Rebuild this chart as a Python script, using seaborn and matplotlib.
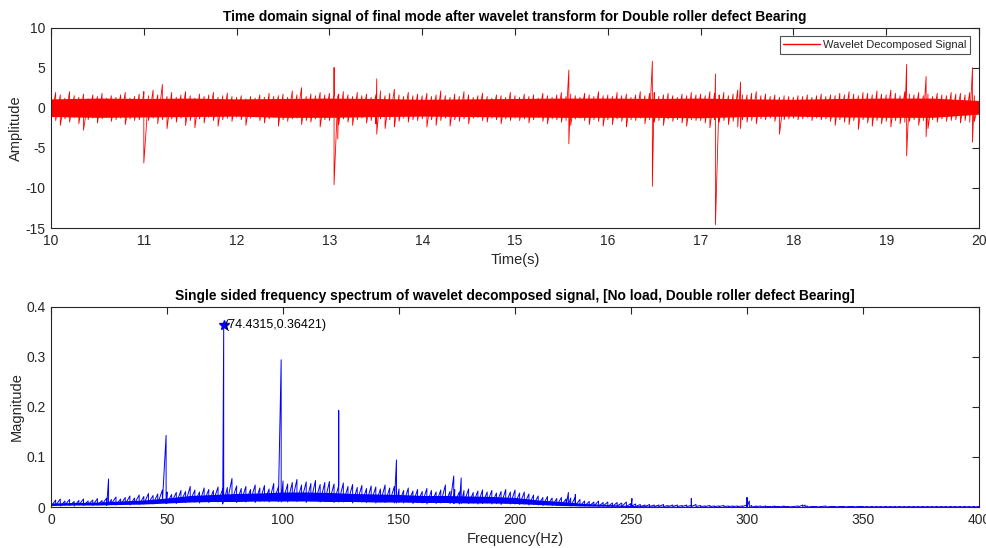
import numpy as np
import pandas as pd
import matplotlib
matplotlib.use("Agg")
import matplotlib.pyplot as plt
from matplotlib.lines import Line2D
import seaborn as sns
from matplotlib.ticker import FuncFormatter, MultipleLocator

# ---------------- time-domain signal (per-column max / min, 0.05 s columns) ----------------
time_start, time_step = 10.0, 0.05
sig_hi = [
    1.4, 1.9, 1.6, 1.2, 2.0, 1.5, 1.3, 1.7, 1.1, 1.6, 1.4, 1.8, 1.2, 1.5, 1.3, 1.6, 1.9, 1.2, 1.4, 1.7,
    1.8, 1.5, 2.2, 1.6, 2.9, 1.4, 1.9, 1.3, 1.6, 2.0, 1.5, 1.2, 1.7, 1.4, 1.6, 1.9, 1.3, 1.5, 1.8, 1.4,
    1.3, 1.5, 1.1, 1.4, 1.2, 1.6, 1.3, 1.8, 1.4, 1.5, 1.7, 1.3, 2.1, 1.6, 2.5, 1.4, 1.7, 1.5, 1.9, 1.6,
    1.8, 1.5, 1.7, 2.0, 1.6, 1.4, 1.9, 1.5, 1.7, 1.3, 1.6, 2.1, 1.5, 1.8, 2.3, 1.6, 1.4, 1.9, 1.5, 1.7,
    1.5, 1.8, 1.4, 1.6, 2.1, 1.5, 1.3, 1.7, 1.4, 2.0, 1.6, 1.3, 1.5, 1.8, 1.4, 1.2, 1.6, 1.5, 1.3, 1.9,
    1.5, 1.3, 1.7, 1.4, 1.6, 1.2, 1.8, 1.5, 1.3, 1.6, 1.9, 1.4, 1.7, 1.5, 1.3, 1.8, 1.6, 1.4, 2.0, 1.5,
    1.6, 1.4, 1.9, 1.5, 1.7, 1.3, 1.6, 2.0, 1.5, 1.8, 1.9, 1.4, 1.6, 1.8, 1.5, 1.3, 1.7, 1.5, 1.9, 1.6,
    1.7, 1.5, 2.0, 1.8, 1.6, 1.9, 1.5, 1.7, 2.2, 1.6, 1.6, 1.8, 2.0, 1.5, 1.7, 1.4, 1.6, 1.3, 1.5, 1.4,
    1.3, 1.5, 1.4, 1.6, 1.3, 1.5, 1.7, 1.4, 1.6, 1.5, 1.8, 1.6, 2.0, 1.7, 1.5, 1.9, 1.8, 1.6, 2.1, 1.7,
    1.6, 2.2, 1.8, 1.5, 2.0, 1.7, 1.6, 1.9, 1.5, 1.7, 1.4, 1.8, 1.6, 1.5, 1.9, 1.7, 1.8, 1.6, 1.9, 1.5,
    0.8,
]
sig_lo = [
    -1.3, -1.6, -2.2, -1.4, -1.8, -1.2, -2.0, -2.8, -1.5, -1.3, -1.9, -1.4, -1.2, -1.7, -1.5, -1.3, -2.1, -1.4, -1.6, -1.5,
    -2.4, -1.6, -1.3, -2.0, -1.5, -2.6, -1.4, -1.8, -1.3, -2.2, -1.6, -2.5, -1.4, -1.9, -1.2, -1.6, -2.3, -1.5, -1.3, -1.7,
    -1.2, -1.5, -2.2, -1.3, -1.1, -1.6, -1.9, -1.4, -1.2, -2.3, -1.5, -1.7, -1.4, -1.3, -2.1, -1.6, -1.8, -1.4, -2.4, -1.5,
    -1.6, -1.5, -2.1, -1.4, -1.8, -2.2, -1.5, -1.3, -1.9, -1.6, -2.0, -1.4, -2.6, -1.5, -2.4, -1.7, -1.3, -1.8, -1.5, -1.6,
    -1.4, -2.4, -1.5, -2.2, -1.6, -1.3, -2.3, -1.5, -1.7, -1.4, -2.0, -1.3, -1.2, -1.6, -1.8, -1.3, -1.5, -2.0, -1.4, -1.6,
    -1.3, -1.6, -1.4, -1.9, -1.5, -1.2, -1.7, -2.0, -1.4, -1.5, -1.8, -1.6, -2.2, -1.4, -1.3, -1.6, -2.1, -1.5, -1.7, -2.3,
    -1.5, -2.1, -1.4, -1.7, -2.4, -1.5, -1.6, -1.3, -2.0, -1.5, -1.8, -1.6, -2.2, -1.4, -1.7, -1.5, -1.9, -2.3, -1.5, -1.6,
    -1.6, -1.9, -2.5, -1.5, -1.8, -1.6, -2.1, -1.7, -2.4, -1.5, -1.8, -1.6, -2.0, -1.4, -1.5, -1.3, -1.7, -3.3, -1.5, -1.4,
    -1.3, -1.5, -1.4, -1.2, -1.6, -1.3, -1.5, -1.4, -1.7, -2.2, -1.5, -1.8, -2.1, -1.6, -2.7, -1.5, -1.9, -2.3, -1.6, -2.0,
    -1.7, -2.4, -1.6, -2.0, -1.8, -1.7, -1.5, -2.2, -1.6, -2.6, -1.5, -1.8, -1.4, -1.7, -1.6, -1.5, -1.9, -1.6, -1.8, -1.7,
    -0.6,
]
# dense core of the signal band, every 0.5 s
core_t_step = 0.5
core_hi = [1.1, 1.2, 1.15, 1.2, 1.1, 1.15, 1.2, 1.15, 1.05, 1.1, 1.15, 1.2, 1.2, 1.15, 1.2, 1.1, 1.05, 1.15, 1.2, 1.2, 0.9]
core_lo = [-1.1, -1.2, -1.15, -1.1, -1.05, -1.2, -1.2, -1.1, -1.05, -1.1, -1.15, -1.2, -1.2, -1.2, -1.25, -1.1, -1.05, -1.15, -1.2, -1.2, -0.8]
# isolated impulses in the signal
impulse_t = [11.00, 13.05, 13.09, 13.51, 15.58, 16.48, 17.16, 17.43, 19.22, 19.43, 19.93]
impulse_hi = [2.0, 5.0, 1.5, 3.6, 4.7, 5.8, 4.2, 3.2, 5.4, 3.9, 5.0]
impulse_lo = [-6.9, -9.6, -3.9, -3.3, -4.5, -9.8, -14.6, -2.6, -6.0, -3.6, -4.3]

# ---------------- single sided spectrum (per-column max / min, 2 Hz columns) ----------------
freq_start, freq_step = 0.0, 2.0
spec_hi = [
    0.008, 0.014, 0.016, 0.012, 0.015, 0.011, 0.013, 0.016, 0.012, 0.014, 0.017, 0.013, 0.018, 0.015, 0.020, 0.016, 0.019, 0.022, 0.018, 0.024, 0.021, 0.027, 0.023, 0.026, 0.034,
    0.030, 0.025, 0.029, 0.033, 0.031, 0.041, 0.034, 0.030, 0.038, 0.035, 0.033, 0.040, 0.036, 0.039, 0.057, 0.042, 0.037, 0.041, 0.035, 0.044, 0.038, 0.043, 0.036, 0.047, 0.040,
    0.052, 0.046, 0.049, 0.055, 0.044, 0.050, 0.047, 0.053, 0.045, 0.049, 0.051, 0.046, 0.043, 0.048, 0.041, 0.045, 0.039, 0.043, 0.037, 0.042, 0.040, 0.036, 0.044, 0.038, 0.041,
    0.036, 0.033, 0.038, 0.032, 0.035, 0.031, 0.037, 0.033, 0.030, 0.034, 0.044, 0.031, 0.035, 0.030, 0.033, 0.036, 0.029, 0.032, 0.034, 0.030, 0.033, 0.028, 0.031, 0.035, 0.030,
    0.034, 0.028, 0.030, 0.026, 0.024, 0.022, 0.019, 0.021, 0.018, 0.017, 0.019, 0.016, 0.018, 0.020, 0.015, 0.012, 0.011, 0.010, 0.012, 0.009, 0.010, 0.008, 0.009, 0.008, 0.010,
    0.007, 0.006, 0.005, 0.004, 0.005, 0.004, 0.004, 0.005, 0.003, 0.004, 0.004, 0.003, 0.004, 0.003, 0.005, 0.003, 0.002, 0.003, 0.002, 0.002, 0.003, 0.002, 0.002, 0.002, 0.002,
    0.004, 0.003, 0.002, 0.002, 0.002, 0.001, 0.002, 0.001, 0.002, 0.001, 0.001, 0.002, 0.004, 0.002, 0.001, 0.001, 0.001, 0.002, 0.001, 0.001, 0.001, 0.001, 0.001, 0.001, 0.001,
    0.001, 0.001, 0.001, 0.001, 0.001, 0.001, 0.001, 0.001, 0.001, 0.001, 0.001, 0.001, 0.001, 0.001, 0.001, 0.001, 0.001, 0.001, 0.001, 0.001, 0.001, 0.001, 0.001, 0.001, 0.001,
    0.001,
]
spec_lo = [
    0.001, 0.003, 0.002, 0.004, 0.003, 0.002, 0.004, 0.003, 0.005, 0.003, 0.004, 0.005, 0.003, 0.006, 0.004, 0.005, 0.006, 0.004, 0.007, 0.005, 0.006, 0.008, 0.006, 0.007, 0.009,
    0.008, 0.010, 0.007, 0.011, 0.009, 0.012, 0.010, 0.008, 0.011, 0.009, 0.012, 0.010, 0.006, 0.011, 0.013, 0.009, 0.012, 0.010, 0.013, 0.009, 0.011, 0.012, 0.010, 0.013, 0.011,
    0.012, 0.010, 0.013, 0.011, 0.014, 0.009, 0.012, 0.013, 0.010, 0.011, 0.012, 0.009, 0.013, 0.010, 0.011, 0.008, 0.012, 0.010, 0.009, 0.011, 0.008, 0.010, 0.009, 0.011, 0.008,
    0.009, 0.008, 0.010, 0.007, 0.009, 0.008, 0.006, 0.009, 0.007, 0.008, 0.009, 0.007, 0.008, 0.006, 0.009, 0.007, 0.008, 0.006, 0.007, 0.008, 0.006, 0.007, 0.005, 0.007, 0.006,
    0.006, 0.005, 0.006, 0.004, 0.005, 0.004, 0.003, 0.004, 0.003, 0.003, 0.004, 0.003, 0.002, 0.003, 0.002, 0.002, 0.002, 0.002, 0.001, 0.002, 0.001, 0.001, 0.002, 0.001, 0.001,
    0.001, 0.001, 0.001, 0.001, 0.001, 0.001, 0.001, 0.001, 0.001, 0.001, 0.001, 0.001, 0.001, 0.001, 0.001, 0.001, 0.001, 0.001, 0.001, 0.001, 0.001, 0.001, 0.001, 0.001, 0.001,
    0.001, 0.000, 0.001, 0.000, 0.001, 0.000, 0.001, 0.000, 0.001, 0.000, 0.001, 0.000, 0.001, 0.000, 0.001, 0.000, 0.001, 0.000, 0.001, 0.000, 0.001, 0.000, 0.001, 0.000, 0.001,
    0.000, 0.000, 0.000, 0.000, 0.000, 0.000, 0.000, 0.000, 0.000, 0.000, 0.000, 0.000, 0.000, 0.000, 0.000, 0.000, 0.000, 0.000, 0.000, 0.000, 0.000, 0.000, 0.000, 0.000, 0.000,
    0.000,
]
# dense core of the spectrum band, every 10 Hz
core_f_step = 10.0
spec_core_hi = [0.008, 0.009, 0.010, 0.012, 0.014, 0.018, 0.023, 0.025, 0.027, 0.028, 0.030, 0.030, 0.029, 0.027, 0.026,
                0.025, 0.023, 0.023, 0.022, 0.021, 0.019, 0.014, 0.011, 0.007, 0.005, 0.003, 0.002, 0.0015, 0.0012, 0.001,
                0.001, 0.0008, 0.0008, 0.0008, 0.0008, 0.0008, 0.0008, 0.0008, 0.0008, 0.0008, 0.0008]
spec_core_lo = [0.003, 0.004, 0.004, 0.005, 0.006, 0.008, 0.010, 0.011, 0.011, 0.012, 0.012, 0.012, 0.011, 0.011, 0.010,
                0.010, 0.009, 0.009, 0.008, 0.008, 0.007, 0.005, 0.003, 0.002, 0.0015, 0.001, 0.001, 0.0008, 0.0006, 0.0005,
                0.0005, 0.0004, 0.0004, 0.0004, 0.0004, 0.0004, 0.0004, 0.0004, 0.0004, 0.0004, 0.0004]
# harmonic peaks of the defect frequency
peak_f = [24.8, 49.6, 74.4315, 99.2, 124.0, 148.9, 173.6, 176.8, 223.0, 226.0, 250.4, 276.0, 300.0, 301.0, 325.0]
peak_hi = [0.056, 0.143, 0.36421, 0.294, 0.193, 0.094, 0.062, 0.058, 0.029, 0.025, 0.017, 0.017, 0.019, 0.012, 0.004]
peak_lo = [0.005, 0.007, 0.010, 0.010, 0.010, 0.008, 0.007, 0.007, 0.004, 0.003, 0.002, 0.001, 0.001, 0.001, 0.001]

marker_f, marker_mag = 74.4315, 0.36421


def envelope_trace(start, step, hi, lo, ev_x, ev_hi, ev_lo):
    """Merge columns and events, then trace max->min in each column."""
    xs = np.concatenate([start + step * np.arange(len(hi)), np.asarray(ev_x, float)])
    his = np.concatenate([hi, ev_hi])
    los = np.concatenate([lo, ev_lo])
    order = np.argsort(xs, kind="stable")
    xs, his, los = xs[order], his[order], los[order]
    x = np.repeat(xs, 2)
    y = np.empty(2 * len(xs))
    y[0::2] = his
    y[1::2] = los
    return pd.DataFrame({"x": x, "y": y})


sns.set_theme(style="white")
plt.rcParams["font.family"] = ["Liberation Sans", "DejaVu Sans"]
ink = "#262626"
plt.rcParams.update({
    "axes.edgecolor": ink, "axes.linewidth": 0.8, "xtick.color": ink, "ytick.color": ink,
    "axes.labelcolor": ink, "text.color": ink, "axes.unicode_minus": False,
})

fig = plt.figure(figsize=(9.87, 5.48), dpi=100)
ax1 = fig.add_axes([0.0517, 0.5839, 0.9402, 0.3659])
ax2 = fig.add_axes([0.0517, 0.0748, 0.9402, 0.3655])

red, blue = "#ff0000", "#0000ff"

# top panel: dense core band + per-column extremes + impulses
core_t = time_start + core_t_step * np.arange(len(core_hi))
ax1.fill_between(core_t, core_lo, core_hi, color=red, linewidth=0)
sig_df = envelope_trace(time_start, time_step, sig_hi, sig_lo, impulse_t, impulse_hi, impulse_lo)
sns.lineplot(data=sig_df, x="x", y="y", sort=False, estimator=None, color=red,
             linewidth=0.6, ax=ax1)
ax1.set_xlim(10, 20)
ax1.set_ylim(-15, 10)
ax1.xaxis.set_major_locator(MultipleLocator(1))
ax1.yaxis.set_major_locator(MultipleLocator(5))
ax1.set_title("Time domain signal of final mode after wavelet transform for Double roller defect Bearing",
              fontsize=9.9, fontweight="bold", color="black", pad=5)
ax1.set_xlabel("Time(s)", fontsize=10.5, labelpad=4)
ax1.set_ylabel("Amplitude", fontsize=10.5, labelpad=2)
leg = ax1.legend(handles=[Line2D([], [], color=red, linewidth=1.0)], labels=["Wavelet Decomposed Signal"],
                 loc="upper right", fontsize=8.0, frameon=True, fancybox=False, handlelength=3.3,
                 borderpad=0.35, handletextpad=0.25, borderaxespad=0.8)
leg.get_frame().set_edgecolor(ink)
leg.get_frame().set_linewidth(0.8)

# bottom panel: spectrum
core_f = freq_start + core_f_step * np.arange(len(spec_core_hi))
ax2.fill_between(core_f, spec_core_lo, spec_core_hi, color=blue, linewidth=0)
spec_df = envelope_trace(freq_start, freq_step, spec_hi, spec_lo, peak_f, peak_hi, peak_lo)
sns.lineplot(data=spec_df, x="x", y="y", sort=False, estimator=None, color=blue,
             linewidth=0.7, ax=ax2)
ax2.plot([marker_f], [marker_mag], marker="*", color=blue, markersize=7, linestyle="none")
ax2.text(marker_f + 0.3, marker_mag, f"({marker_f},{marker_mag})", fontsize=9,
         ha="left", va="center", color="black")
ax2.set_xlim(0, 400)
ax2.set_ylim(0, 0.4)
ax2.xaxis.set_major_locator(MultipleLocator(50))
ax2.yaxis.set_major_locator(MultipleLocator(0.1))
ax2.yaxis.set_major_formatter(FuncFormatter(lambda v, p: "0" if abs(v) < 1e-9 else f"{v:.1f}"))
ax2.set_title("Single sided frequency spectrum of wavelet decomposed signal, [No load, Double roller defect Bearing]",
              fontsize=9.9, fontweight="bold", color="black", pad=5)
ax2.set_xlabel("Frequency(Hz)", fontsize=10.5, labelpad=4)
ax2.set_ylabel("Magnitude", fontsize=10.5, labelpad=2)

for ax in (ax1, ax2):
    for s in ax.spines.values():
        s.set_visible(True)
        s.set_color(ink)
    ax.tick_params(direction="in", length=5, width=0.8, labelsize=10, top=True, right=True,
                   labeltop=False, labelright=False, pad=4)

fig.savefig("out.png", dpi=100)
